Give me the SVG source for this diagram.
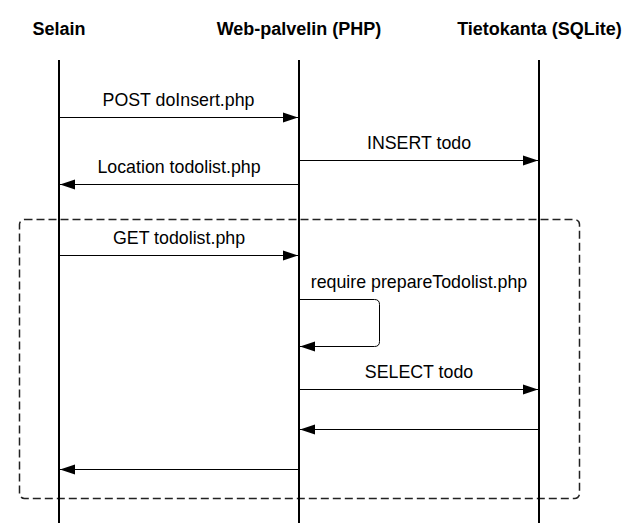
<svg xmlns="http://www.w3.org/2000/svg" width="631" height="523" viewBox="0 0 631 523">
<defs>
<style>
.hdr{font-family:"Liberation Sans",Arial,sans-serif;font-size:18px;font-weight:bold;text-anchor:middle;fill:#000}
.lbl{font-family:"Liberation Sans",Arial,sans-serif;font-size:17.8px;text-anchor:middle;fill:#000}
.life{stroke:#000;stroke-width:2;fill:none}
.msg{stroke:#000;stroke-width:1;fill:none;marker-end:url(#ah)}
.frame{stroke:#222;stroke-width:1.5;fill:none;stroke-dasharray:8 4}
</style>
<marker id="ah" markerUnits="userSpaceOnUse" markerWidth="15" markerHeight="12" refX="15" refY="6" orient="auto">
<path d="M0,1 L15,6 L0,11 Z" fill="#000"/>
</marker>
</defs>
<rect width="631" height="523" fill="#fff"/>
<g id="frame-loop">
<rect class="frame" x="19.5" y="219.5" width="560" height="279" rx="5"/>
</g>
<g id="node-selain">
<text class="hdr" x="59" y="34.5">Selain</text>
<line class="life" x1="59" y1="60" x2="59" y2="523"/>
</g>
<g id="node-web">
<text class="hdr" x="299" y="34.5">Web-palvelin (PHP)</text>
<line class="life" x1="299" y1="60" x2="299" y2="523"/>
</g>
<g id="node-db">
<text class="hdr" x="539.5" y="34.5">Tietokanta (SQLite)</text>
<line class="life" x1="539" y1="60" x2="539" y2="523"/>
</g>
<g id="connectors">
<path class="msg" d="M60,117.5 H298"/>
<text class="lbl" x="178.5" y="106">POST doInsert.php</text>
<path class="msg" d="M300,160.5 H538"/>
<text class="lbl" x="419" y="149">INSERT todo</text>
<path class="msg" d="M298,184.5 H60"/>
<text class="lbl" x="179" y="173">Location todolist.php</text>
<path class="msg" d="M60,255.5 H298"/>
<text class="lbl" x="179" y="244">GET todolist.php</text>
<path class="msg" d="M300,299.5 H374.5 Q379.5,299.5 379.5,304.5 V341.5 Q379.5,346.5 374.5,346.5 H300"/>
<text class="lbl" x="419" y="288">require prepareTodolist.php</text>
<path class="msg" d="M300,389.5 H538"/>
<text class="lbl" x="419" y="378">SELECT todo</text>
<path class="msg" d="M538,429.5 H300"/>
<path class="msg" d="M298,469.5 H60"/>
</g>
</svg>
